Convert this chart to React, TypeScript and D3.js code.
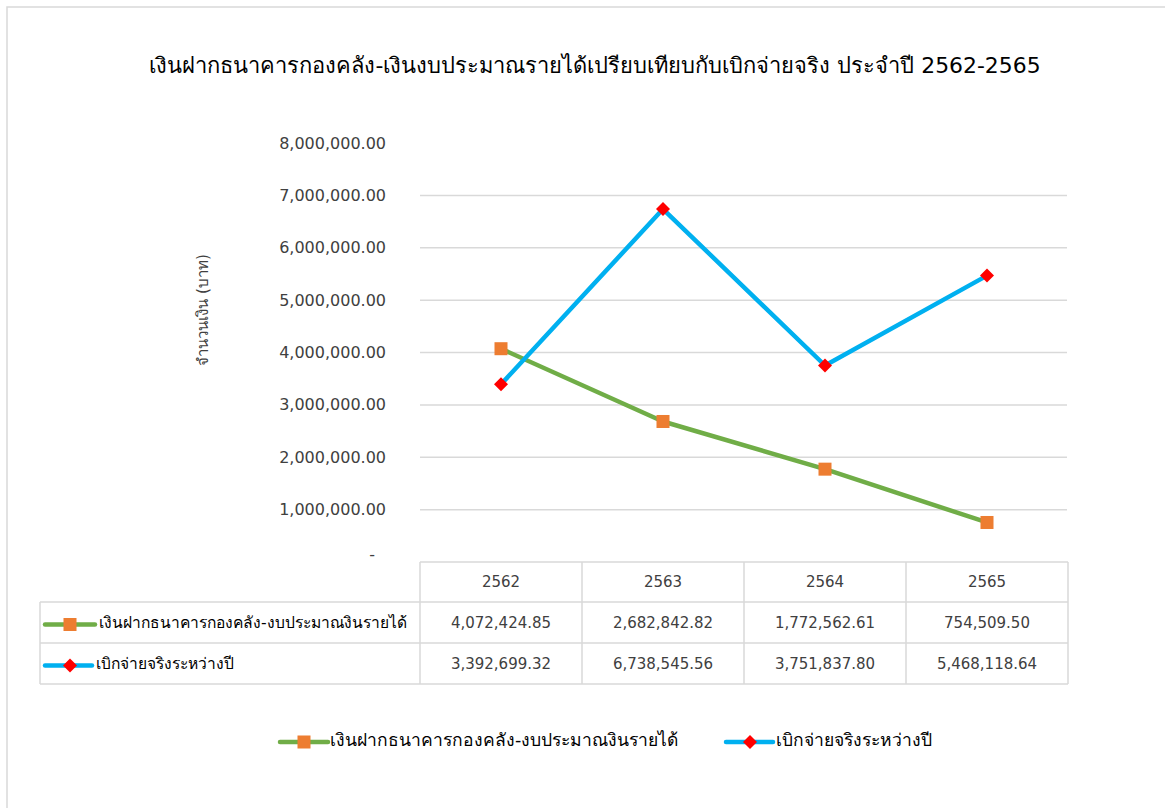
import React from "react";
import * as d3 from "d3";

const years = ["2562", "2563", "2564", "2565"];
const depositSeries = [4072424.85, 2682842.82, 1772562.61, 754509.5];
const spendSeries = [3392699.32, 6738545.56, 3751837.8, 5468118.64];
const yTicks = [0, 1000000, 2000000, 3000000, 4000000, 5000000, 6000000, 7000000, 8000000];
const title = "เงินฝากธนาคารกองคลัง-เงินงบประมาณรายได้เปรียบเทียบกับเบิกจ่ายจริง ประจำปี 2562-2565";
const yTitle = "จำนวนเงิน (บาท)";
const depositName = "เงินฝากธนาคารกองคลัง-งบประมาณงินรายได้";
const spendName = "เบิกจ่ายจริงระหว่างปี";

const W = 1165;
const H = 808;
const GREEN = "#70AD47";
const ORANGE = "#ED7D31";
const BLUE = "#00B0F0";
const RED = "#FF0000";
const GRID = "#D9D9D9";
const TEXT = "#404040";
const FONT = "Tahoma, 'DejaVu Sans', 'Noto Sans', sans-serif";
const NUMFONT = "'DejaVu Sans', Tahoma, sans-serif";

export default function App() {
  const x = d3.scaleBand<string>().domain(years).range([420, 1068]);
  const y = d3.scaleLinear().domain([0, 8000000]).range([562, 143]);
  const cx = (d: string) => (x(d) as number) + x.bandwidth() / 2;
  const fmt = d3.format(",.2f");
  const line = d3
    .line<number>()
    .x((_, i) => cx(years[i]))
    .y((v) => y(v));

  const rowTop = 562;
  const rowH = [40, 41, 41];
  const r1 = rowTop + rowH[0];
  const r2 = r1 + rowH[1];
  const r3 = r2 + rowH[2];
  const tableLeft = 40;

  const square = (px: number, py: number, s: number, key?: string) => (
    <rect key={key} x={px - s / 2} y={py - s / 2} width={s} height={s} fill={ORANGE} />
  );
  const diamond = (px: number, py: number, s: number, key?: string) => (
    <path
      key={key}
      d={`M${px},${py - s / 2}L${px + s / 2},${py}L${px},${py + s / 2}L${px - s / 2},${py}Z`}
      fill={RED}
    />
  );

  return (
    <svg
      width={W}
      height={H}
      style={{ position: "absolute", left: 0, top: 0, background: "#fff" }}
      fontFamily={FONT}
    >
      <rect x={7} y={7} width={1162} height={820} fill="#fff" stroke={GRID} strokeWidth={1.5} />
      <text x={595} y={73} textAnchor="middle" fontSize={21.9} fill="#000">
        {title}
      </text>

      {/* gridlines */}
      {yTicks
        .filter((t) => t > 0 && t < 8000000)
        .map((t) => (
          <line key={t} x1={420} x2={1067} y1={y(t)} y2={y(t)} stroke={GRID} strokeWidth={1.5} />
        ))}

      {/* y tick labels */}
      {yTicks.map((t) => (
        <text
          key={"l" + t}
          x={t === 0 ? 375 : 386}
          y={y(t)}
          dy={t === 0 ? -2 : "0.35em"}
          textAnchor="end"
          fontSize={16}
          fill={TEXT}
          fontFamily={NUMFONT}
        >
          {t === 0 ? "-" : fmt(t)}
        </text>
      ))}

      <text
        transform={`translate(208,310) rotate(-90)`}
        textAnchor="middle"
        fontSize={15}
        fill={TEXT}
      >
        {yTitle}
      </text>

      {/* lines */}
      <path d={line(depositSeries) || ""} fill="none" stroke={GREEN} strokeWidth={4.5} strokeLinejoin="round" />
      <path d={line(spendSeries) || ""} fill="none" stroke={BLUE} strokeWidth={4.5} strokeLinejoin="round" />
      {depositSeries.map((v, i) => square(cx(years[i]), y(v), 13, "s" + i))}
      {spendSeries.map((v, i) => diamond(cx(years[i]), y(v), 14, "d" + i))}

      {/* data table */}
      <g stroke={GRID} strokeWidth={1.5} fill="none">
        <line x1={420} x2={1068} y1={rowTop} y2={rowTop} />
        <line x1={tableLeft} x2={1068} y1={r1} y2={r1} />
        <line x1={tableLeft} x2={1068} y1={r2} y2={r2} />
        <line x1={tableLeft} x2={1068} y1={r3} y2={r3} />
        <line x1={tableLeft} x2={tableLeft} y1={r1} y2={r3} />
        <line x1={420} x2={420} y1={rowTop} y2={r3} />
        {years.map((yr) => (
          <line key={"v" + yr} x1={(x(yr) as number) + x.bandwidth()} x2={(x(yr) as number) + x.bandwidth()} y1={rowTop} y2={r3} />
        ))}
      </g>
      {years.map((yr) => (
        <text key={"h" + yr} x={cx(yr)} y={(rowTop + r1) / 2} dy="0.35em" textAnchor="middle" fontSize={15} fill={TEXT} fontFamily={NUMFONT}>
          {yr}
        </text>
      ))}
      {depositSeries.map((v, i) => (
        <text key={"a" + i} x={cx(years[i])} y={(r1 + r2) / 2} dy="0.35em" textAnchor="middle" fontSize={15} fill={TEXT} fontFamily={NUMFONT}>
          {fmt(v)}
        </text>
      ))}
      {spendSeries.map((v, i) => (
        <text key={"b" + i} x={cx(years[i])} y={(r2 + r3) / 2} dy="0.35em" textAnchor="middle" fontSize={15} fill={TEXT} fontFamily={NUMFONT}>
          {fmt(v)}
        </text>
      ))}
      {/* table legend keys */}
      <line x1={45} x2={95} y1={(r1 + r2) / 2 + 2} y2={(r1 + r2) / 2 + 2} stroke={GREEN} strokeWidth={4.5} strokeLinecap="round" />
      {square(70, (r1 + r2) / 2 + 2, 13)}
      <text x={99} y={(r1 + r2) / 2} dy="0.35em" fontSize={15.6} fill="#000">
        {depositName}
      </text>
      <line x1={45} x2={92} y1={(r2 + r3) / 2 + 2} y2={(r2 + r3) / 2 + 2} stroke={BLUE} strokeWidth={4.5} strokeLinecap="round" />
      {diamond(70, (r2 + r3) / 2 + 2, 14)}
      <text x={96} y={(r2 + r3) / 2} dy="0.35em" fontSize={15.6} fill="#000">
        {spendName}
      </text>

      {/* legend */}
      <line x1={280} x2={328} y1={742} y2={742} stroke={GREEN} strokeWidth={4.5} strokeLinecap="round" />
      {square(304, 742, 13)}
      <text x={330} y={740} dy="0.35em" fontSize={17.5} fill="#000">
        {depositName}
      </text>
      <line x1={726} x2={773} y1={742} y2={742} stroke={BLUE} strokeWidth={4.5} strokeLinecap="round" />
      {diamond(750, 742, 14)}
      <text x={776} y={740} dy="0.35em" fontSize={17.5} fill="#000">
        {spendName}
      </text>
    </svg>
  );
}
